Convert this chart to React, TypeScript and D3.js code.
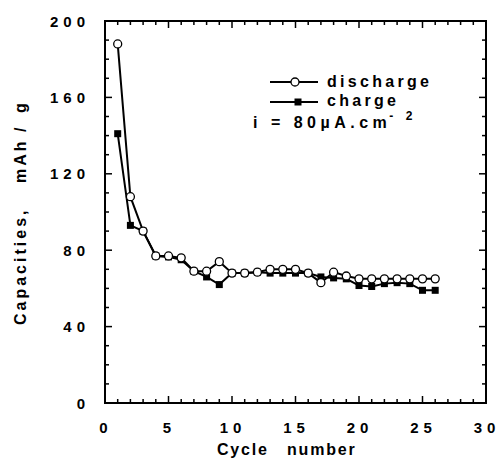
import { useEffect, useRef } from 'react';
import * as d3 from 'd3';

const cycles = [1, 2, 3, 4, 5, 6, 7, 8, 9, 10, 11, 12, 13, 14, 15, 16, 17, 18, 19, 20, 21, 22, 23, 24, 25, 26];
const discharge = [188, 108, 90, 77, 77, 76, 69, 69, 74, 68, 68, 68.5, 70, 70, 70, 68, 63, 68.5, 66.5, 65, 65, 65, 65, 65, 65, 65];
const charge = [141, 93, 90, 77, 76.5, 75, 69, 66, 62, 68, 68, 68.5, 68, 68, 68, 68, 66, 65.5, 65, 61.5, 61, 62.5, 63, 62.5, 59, 59];
const xTicks = [0, 5, 10, 15, 20, 25, 30];
const yTicks = [0, 40, 80, 120, 160, 200];

const App = () => {
  const svgRef = useRef<SVGSVGElement>(null);

  useEffect(() => {
    const width = 504;
    const height = 466;
    const margin = { top: 21, right: 18, bottom: 63, left: 105 };
    const font = 'Liberation Sans, Arial, sans-serif';

    const svg = d3.select(svgRef.current).attr('width', width).attr('height', height);
    svg.selectAll('*').remove();

    const x = d3.scaleLinear().domain([0, 30]).range([margin.left, width - margin.right]);
    const y = d3.scaleLinear().domain([0, 200]).range([height - margin.bottom, margin.top]);

    const x0 = x(0), x1 = x(30), y0 = y(0), y1 = y(200);

    // frame
    svg.append('rect')
      .attr('x', x0).attr('y', y1)
      .attr('width', x1 - x0).attr('height', y0 - y1)
      .attr('fill', 'none').attr('stroke', '#000').attr('stroke-width', 2);

    // inward ticks on all four sides
    const ticks = svg.append('g').attr('stroke', '#000').attr('stroke-width', 1.5);
    d3.range(0, 31).forEach((v) => {
      const len = v % 5 === 0 ? 7 : 4;
      ticks.append('line').attr('x1', x(v)).attr('x2', x(v)).attr('y1', y0).attr('y2', y0 - len);
      ticks.append('line').attr('x1', x(v)).attr('x2', x(v)).attr('y1', y1).attr('y2', y1 + len);
    });
    d3.range(0, 201, 10).forEach((v) => {
      const len = v % 40 === 0 ? 7 : 4;
      ticks.append('line').attr('x1', x0).attr('x2', x0 + len).attr('y1', y(v)).attr('y2', y(v));
      ticks.append('line').attr('x1', x1).attr('x2', x1 - len).attr('y1', y(v)).attr('y2', y(v));
    });

    const bold = (sel: any, size: number, spacing: number) =>
      sel.attr('font-family', font).attr('font-weight', 'bold').attr('font-size', size)
        .attr('letter-spacing', spacing).attr('fill', '#000');

    xTicks.forEach((v) => {
      svg.append('text').call(bold, 15, 5)
        .attr('x', x(v) + 1).attr('y', y0 + 30)
        .attr('text-anchor', 'middle').text(String(v));
    });
    yTicks.forEach((v) => {
      svg.append('text').call(bold, 15, 5)
        .attr('x', x0 - 15).attr('y', y(v) + 5.5)
        .attr('text-anchor', 'end').text(String(v));
    });

    // x axis title
    const xt = svg.append('text').call(bold, 16, 1.8).attr('y', 455);
    xt.append('tspan').attr('x', 217).text('Cycle');
    xt.append('tspan').attr('x', 287).text('number');

    // y axis title, words placed along the rotated baseline
    const yt = svg.append('text').call(bold, 16, 3)
      .attr('transform', 'translate(26,0) rotate(-90)');
    yt.append('tspan').attr('x', -325).text('Capacities,');
    yt.append('tspan').attr('x', -183).text('mAh');
    yt.append('tspan').attr('x', -132).text('/');
    yt.append('tspan').attr('x', -113).text('g');

    const line = d3.line<number>().x((_, i) => x(cycles[i])).y((d) => y(d));

    svg.append('path').datum(charge).attr('d', line)
      .attr('fill', 'none').attr('stroke', '#000').attr('stroke-width', 2);
    svg.append('path').datum(discharge).attr('d', line)
      .attr('fill', 'none').attr('stroke', '#000').attr('stroke-width', 2);

    svg.append('g').selectAll('rect').data(charge).join('rect')
      .attr('x', (_, i) => x(cycles[i]) - 3.5).attr('y', (d) => y(d) - 3.5)
      .attr('width', 7).attr('height', 7).attr('fill', '#000');

    svg.append('g').selectAll('circle').data(discharge).join('circle')
      .attr('cx', (_, i) => x(cycles[i])).attr('cy', (d) => y(d)).attr('r', 4)
      .attr('fill', '#fff').attr('stroke', '#000').attr('stroke-width', 1.3);

    // legend
    const lg = svg.append('g');
    lg.append('line').attr('x1', 270).attr('x2', 318).attr('y1', 82).attr('y2', 82)
      .attr('stroke', '#000').attr('stroke-width', 2);
    lg.append('circle').attr('cx', 295).attr('cy', 82).attr('r', 4)
      .attr('fill', '#fff').attr('stroke', '#000').attr('stroke-width', 1.3);
    lg.append('line').attr('x1', 270).attr('x2', 318).attr('y1', 102).attr('y2', 102)
      .attr('stroke', '#000').attr('stroke-width', 2);
    lg.append('rect').attr('x', 294.5).attr('y', 98.5).attr('width', 7).attr('height', 7).attr('fill', '#000');

    lg.append('text').call(bold, 16, 3.3).attr('x', 327).attr('y', 87).text('discharge');
    lg.append('text').call(bold, 16, 3.3).attr('x', 327).attr('y', 106).text('charge');

    const it = lg.append('text').call(bold, 16, 4.5).attr('x', 253).attr('y', 128);
    it.append('tspan').text('i = 80µA.cm');
    it.append('tspan').attr('font-size', 12).attr('dx', -2).attr('dy', -8).text('- 2');
  }, []);

  return <svg ref={svgRef} style={{ position: 'absolute', left: 0, top: 0 }}></svg>;
};

export default App;
